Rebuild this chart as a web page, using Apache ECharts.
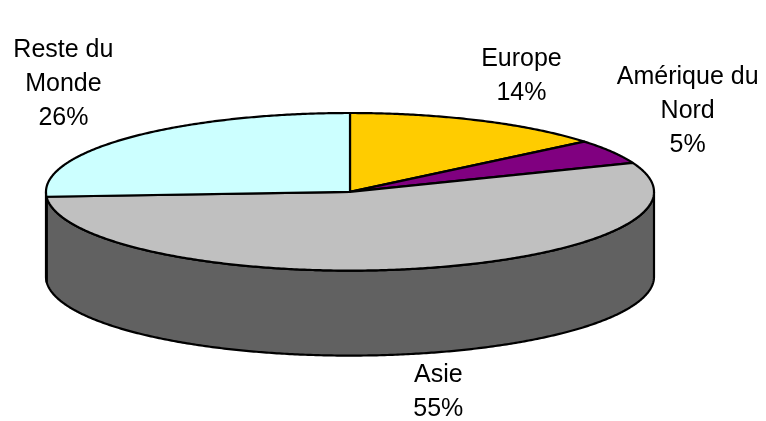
<!DOCTYPE html>
<html>
<head>
<meta charset="utf-8">
<script src="https://cdn.jsdelivr.net/npm/echarts@6/dist/echarts.min.js"></script>
<style>
  html, body { margin: 0; padding: 0; background: #fff; }
  #chart { width: 766px; height: 421px; }
</style>
</head>
<body>
<div id="chart"></div>
<script>
// Regional shares (percent), clockwise from 12 o'clock
const categories = ['Europe', 'Amérique du Nord', 'Asie', 'Reste du Monde'];
const categoryLabels = ['Europe', 'Amérique du\nNord', 'Asie', 'Reste du\nMonde'];
const shares = [14, 5, 55, 26];

// Colours of the slice tops and of their walls
const topColors = ['#FFCC00', '#800080', '#C0C0C0', '#CCFFFF'];
const sideColors = ['#806600', '#400040', '#616161', '#669999'];

// Geometry of the tilted disc
const disc = { cx: 350, cy: 191.8, rx: 304, ry: 78.8, depth: 85 };
// Where each label sits relative to its slice rim (bottom rim for the front slice)
const labelOffsets = {
  'Europe': [42, -44, 0],
  'Amérique du Nord': [76, -41, 0],
  'Asie': [22, 38, 1],
  'Reste du Monde': [-65, -54, 0]
};

const total = shares.reduce((a, b) => a + b, 0);
const starts = [];
let acc = 0;
shares.forEach(v => { starts.push(acc); acc += v; });

function rimPoint(theta, dy) {
  return [disc.cx + disc.rx * Math.sin(theta), disc.cy - disc.ry * Math.cos(theta) + dy];
}
function arc(a1, a2, dy) {
  const pts = [];
  const n = Math.max(2, Math.ceil(Math.abs(a2 - a1) / (Math.PI / 360)));
  for (let i = 0; i <= n; i++) pts.push(rimPoint(a1 + (a2 - a1) * i / n, dy));
  return pts;
}

function renderItem(params, api) {
  const i = params.dataIndex;
  const value = api.value(0);
  const a1 = starts[i] / total * 2 * Math.PI;
  const a2 = (starts[i] + value) / total * 2 * Math.PI;
  const children = [];

  // visible wall: the front half of the disc (90deg .. 270deg)
  const s1 = Math.max(a1, Math.PI / 2), s2 = Math.min(a2, Math.PI * 1.5);
  if (s2 > s1) {
    const pts = arc(s1, s2, 0).concat(arc(s2, s1, disc.depth));
    children.push({
      type: 'polygon', shape: { points: pts },
      style: { fill: sideColors[i], stroke: '#000', lineWidth: 2.2, lineJoin: 'round' }
    });
  }

  // slice top
  const topPts = [[disc.cx, disc.cy]].concat(arc(a1, a2, 0));
  children.push({
    type: 'polygon', shape: { points: topPts },
    style: { fill: topColors[i], stroke: '#000', lineWidth: 2.2, lineJoin: 'round' }
  });

  // label
  const mid = (a1 + a2) / 2;
  const off = labelOffsets[categories[i]];
  const anchor = rimPoint(mid, off[2] ? disc.depth : 0);
  children.push({
    type: 'text',
    x: anchor[0] + off[0], y: anchor[1] + off[1],
    style: {
      text: categoryLabels[i] + '\n' + value + '%',
      fill: '#000',
      font: '25px "Liberation Sans", Arial, sans-serif',
      lineHeight: 34,
      align: 'center',
      verticalAlign: 'middle'
    }
  });

  return { type: 'group', children: children };
}

const chart = echarts.init(document.getElementById('chart'), null, { renderer: 'canvas' });
chart.setOption({
  backgroundColor: '#fff',
  animation: false,
  series: [{
    type: 'custom',
    coordinateSystem: 'none',
    renderItem: renderItem,
    data: shares.map((v, i) => ({ name: categories[i], value: [v] }))
  }]
});
</script>
</body>
</html>
